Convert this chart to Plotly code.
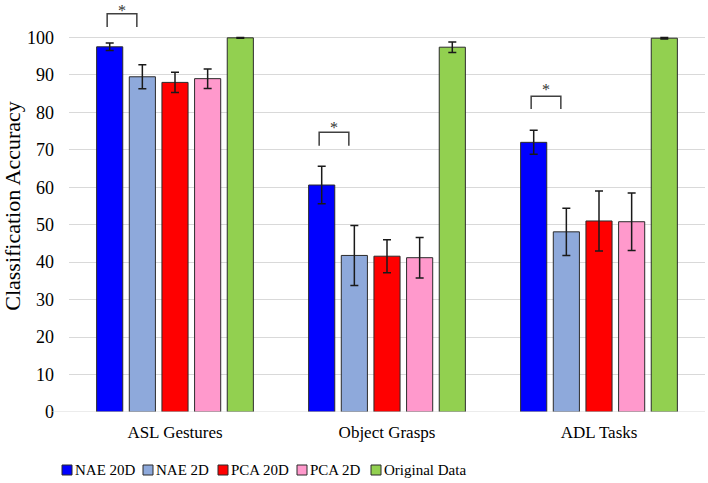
import plotly.graph_objects as go

categories = ['ASL Gestures', 'Object Grasps', 'ADL Tasks']
series = ['NAE 20D', 'NAE 2D', 'PCA 20D', 'PCA 2D', 'Original Data']
colors = ['#0000FF', '#8EA9DB', '#FF0000', '#FF99CC', '#92D050']

nae20 = [97.5, 60.6, 72.0]
nae2 = [89.5, 41.8, 48.1]
pca20 = [88.0, 41.6, 51.0]
pca2 = [89.0, 41.2, 50.8]
orig = [99.9, 97.4, 99.8]

nae20_err = [1.0, 5.0, 3.2]
nae2_err = [3.2, 8.0, 6.3]
pca20_err = [2.7, 4.4, 8.0]
pca2_err = [2.6, 5.4, 7.7]
orig_err = [0.1, 1.4, 0.2]

# significance brackets: bracket top, bracket bottom, asterisk height
sig_top = [106.3, 74.7, 84.3]
sig_bottom = [102.8, 71.1, 80.9]
sig_star = [107.3, 76.0, 86.1]

values = [nae20, nae2, pca20, pca2, orig]
errors = [nae20_err, nae2_err, pca20_err, pca2_err, orig_err]

xs = list(range(len(categories)))
fnt = 'Liberation Serif, Times New Roman, serif'

W, H = 708, 483
ML, MR, MT, MB = 69, 3, 0, 71
pw, ph = W - ML - MR, H - MT - MB

fig = go.Figure()
for name, v, e, c in zip(series, values, errors, colors):
    fig.add_trace(go.Bar(
        x=xs, y=v, name=name, showlegend=False,
        marker=dict(color=c, line=dict(color='#2b2b2b', width=1)),
        error_y=dict(type='data', array=e, color='#1a1a1a', thickness=1.5, width=4),
    ))

for i in xs:
    x0 = i - 0.32
    x1 = i - 0.18
    fig.add_shape(type='path',
                  path=f'M {x0},{sig_bottom[i]} L {x0},{sig_top[i]} L {x1},{sig_top[i]} L {x1},{sig_bottom[i]}',
                  line=dict(color='#404040', width=1.5), xref='x', yref='y')
    fig.add_annotation(x=(x0 + x1) / 2, y=sig_star[i], text='*', showarrow=False,
                       font=dict(family=fnt, size=16, color='#333333'))

# baseline extends left under the tick labels
fig.add_shape(type='line', xref='paper', yref='y', x0=-0.027, x1=1, y0=0, y1=0,
              line=dict(color='#d9d9d9', width=1))

# legend drawn by hand so the swatch sits right next to its label
legend_px = [62, 143, 218, 297, 371]
leg_y = 470
for name, c, px in zip(series, colors, legend_px):
    fig.add_shape(type='rect', xref='paper', yref='paper',
                  x0=(px - ML) / pw, x1=(px + 10 - ML) / pw,
                  y0=(H - MB - leg_y - 5) / ph, y1=(H - MB - leg_y + 5) / ph,
                  fillcolor=c, line=dict(color='#2b2b2b', width=1))
    fig.add_annotation(xref='paper', yref='paper', x=(px + 11 - ML) / pw,
                       y=(H - MB - leg_y) / ph, xanchor='left', yanchor='middle',
                       text=name, showarrow=False, font=dict(family=fnt, size=15))

fig.update_layout(
    width=W, height=H,
    margin=dict(l=ML, r=MR, t=MT, b=MB, autoexpand=False),
    plot_bgcolor='white', paper_bgcolor='white',
    barmode='group', bargap=0.23, bargroupgap=0.2,
    font=dict(family=fnt, size=17, color='#000000'),
    xaxis=dict(tickvals=xs, ticktext=categories, range=[-0.5, 2.5], showgrid=False,
               zeroline=False, showline=False, ticks='', ticklabelstandoff=8,
               tickfont=dict(size=17), automargin=False),
    yaxis=dict(range=[0, 110], tickvals=list(range(0, 101, 10)), showgrid=True,
               gridcolor='#d9d9d9', gridwidth=1, zeroline=False, showline=False,
               ticklabelstandoff=14, tickfont=dict(size=18), automargin=False,
               title=dict(text='Classification Accuracy', font=dict(size=22), standoff=10)),
)

fig.write_html('out.html', config={'displayModeBar': False},
               post_script="document.body.style.margin='0';")
